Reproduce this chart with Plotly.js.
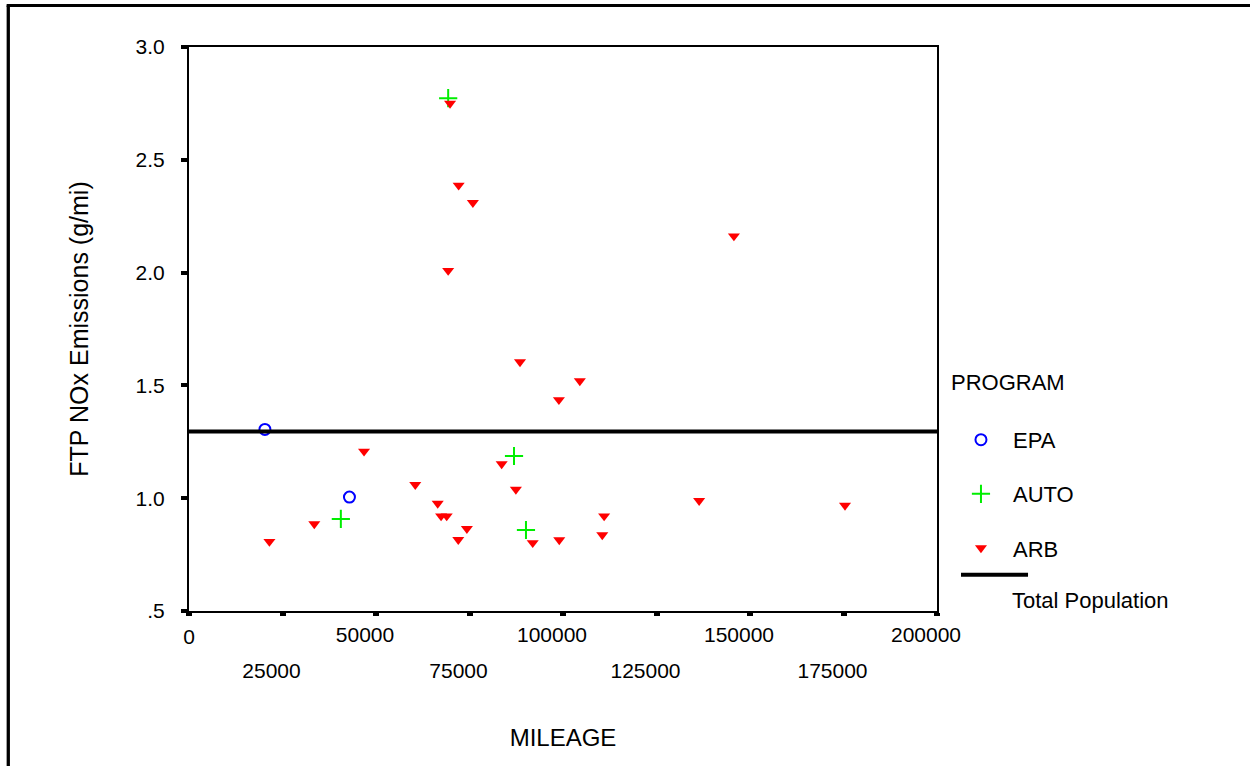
<!DOCTYPE html>
<html>
<head>
<meta charset="utf-8">
<script src="https://cdn.plot.ly/plotly-3.0.1.min.js"></script>
<style>html,body{margin:0;padding:0;background:#fff;}#chart{width:1250px;height:766px;}</style>
</head>
<body>
<div id="chart"></div>
<script>
// ---- data ----
const epaMileage  = [20300, 42900];
const epaNOx      = [1.305, 1.005];

const autoMileage = [69300, 40600, 86900, 90100];
const autoNOx     = [2.773, 0.908, 1.187, 0.859];

const arbMileage = [21500, 33500, 46800, 69800, 72100, 75900, 69300, 60500, 66500, 67400,
                    68900, 74300, 72000, 83600, 87400, 91900, 99000, 111000, 110500, 88500,
                    104500, 98900, 136400, 175400, 145700];
const arbNOx     = [0.808, 0.886, 1.208, 2.750, 2.387, 2.310, 2.009, 1.060, 0.977, 0.921,
                    0.921, 0.865, 0.816, 1.152, 1.039, 0.802, 0.815, 0.921, 0.837, 1.604,
                    1.520, 1.436, 0.989, 0.968, 2.162];

const totalMileage = [0, 200000];
const totalNOx     = [1.296, 1.296];

const xMainTicks   = [0, 25000, 50000, 75000, 100000, 125000, 150000, 175000, 200000];
const xRow1Ticks   = [50000, 100000, 150000, 200000];
const xRow2Ticks   = [25000, 75000, 125000, 175000];
const yTicks       = [0.5, 1.0, 1.5, 2.0, 2.5, 3.0];
const yTickLabels  = ['.5', '1.0', '1.5', '2.0', '2.5', '3.0'];
const seriesNames  = ['EPA', 'AUTO', 'ARB'];

const FONT = 'Liberation Sans, Arial, sans-serif';

const traces = [
  {x: epaMileage, y: epaNOx, name: seriesNames[0], type: 'scatter', mode: 'markers',
   legendgroup: 'g1', marker: {symbol: 'circle-open', size: 11, color: '#0000ff', line: {width: 2, color: '#0000ff'}}},
  {x: autoMileage, y: autoNOx, name: seriesNames[1], type: 'scatter', mode: 'markers',
   legendgroup: 'g2', marker: {symbol: 'cross-thin-open', size: 13, color: '#00ee00', line: {width: 2, color: '#00ee00'}}},
  {x: arbMileage, y: arbNOx, name: seriesNames[2], type: 'scatter', mode: 'markers',
   legendgroup: 'g3', marker: {symbol: 'triangle-down', size: 10.5, color: '#ff0000', line: {width: 0}}},
  {x: totalMileage, y: totalNOx, name: 'Total Population', type: 'scatter', mode: 'lines',
   showlegend: false, line: {color: '#000', width: 4}}
];

const tickFont = {family: FONT, size: 21, color: '#000'};

const layout = {
  width: 1250, height: 766,
  margin: {l: 189, r: 313, t: 47, b: 155},
  paper_bgcolor: '#fff', plot_bgcolor: '#fff',
  font: {family: FONT, color: '#000'},
  showlegend: true,
  legend: {
    x: 1.016, xanchor: 'left', y: 0.442, yanchor: 'top',
    traceorder: 'grouped', tracegroupgap: 22.5, itemwidth: 54,
    font: {family: FONT, size: 22, color: '#000'},
    title: {text: 'PROGRAM<br> ', font: {family: FONT, size: 22, color: '#000'}},
    bgcolor: 'rgba(0,0,0,0)', borderwidth: 0
  },
  xaxis: {
    range: [0, 200000], showgrid: false, zeroline: false,
    showline: true, linecolor: '#000', linewidth: 2, mirror: true,
    tickmode: 'array', tickvals: xMainTicks,
    ticktext: xMainTicks.map(v => v === 0 ? '0' : ''),
    ticks: 'outside', ticklen: 3, tickwidth: 6, tickcolor: '#000',
    tickfont: tickFont, ticklabelstandoff: 3,
    title: {text: 'MILEAGE', font: {family: FONT, size: 24, color: '#000'}, standoff: 82},
    automargin: true, fixedrange: true
  },
  xaxis2: {
    overlaying: 'x', anchor: 'y', side: 'bottom', range: [0, 200000],
    showgrid: false, zeroline: false, showline: false,
    tickmode: 'array', tickvals: xRow1Ticks, ticktext: xRow1Ticks.map(String),
    ticks: '', ticklabelshift: -11, ticklabelstandoff: 9, tickfont: tickFont, fixedrange: true
  },
  xaxis3: {
    overlaying: 'x', anchor: 'y', side: 'bottom', range: [0, 200000],
    showgrid: false, zeroline: false, showline: false,
    tickmode: 'array', tickvals: xRow2Ticks, ticktext: xRow2Ticks.map(String),
    ticks: '', ticklabelshift: -11, ticklabelstandoff: 45, tickfont: tickFont, fixedrange: true
  },
  yaxis: {
    range: [0.5, 3.0], showgrid: false, zeroline: false,
    showline: true, linecolor: '#000', linewidth: 2, mirror: true,
    tickmode: 'array', tickvals: yTicks, ticktext: yTickLabels,
    ticks: 'outside', ticklen: 6, tickwidth: 4, tickcolor: '#000',
    tickfont: tickFont, ticklabelstandoff: 12,
    title: {text: 'FTP NOx Emissions (g/mi)', font: {family: FONT, size: 25, color: '#000'}, standoff: 40},
    automargin: true, fixedrange: true
  },
  shapes: [
    // outer frame (left and top edges only)
    {type: 'line', xref: 'paper', yref: 'paper', x0: -0.2416, x1: -0.2416, y0: -0.3, y1: 1.0736,
     line: {color: '#000', width: 3.3}},
    {type: 'line', xref: 'paper', yref: 'paper', x0: -0.2438, x1: 1.43, y0: 1.0736, y1: 1.0736,
     line: {color: '#000', width: 3}},
    // legend entry for the Total Population line
    {type: 'line', xref: 'paper', yref: 'paper', x0: 1.0321, x1: 1.1217, y0: 0.0644, y1: 0.0644,
     line: {color: '#000', width: 4}}
  ],
  annotations: [
    {xref: 'paper', yref: 'paper', x: 1.0976, y: 0.0195, xanchor: 'left', yanchor: 'middle',
     text: 'Total Population', showarrow: false, font: {family: FONT, size: 22, color: '#000'}}
  ]
};

// bind the second/third label axes so they render
traces.push({x: [null], y: [null], xaxis: 'x2', yaxis: 'y', showlegend: false, hoverinfo: 'skip'});
traces.push({x: [null], y: [null], xaxis: 'x3', yaxis: 'y', showlegend: false, hoverinfo: 'skip'});

Plotly.newPlot('chart', traces, layout, {displayModeBar: false, staticPlot: true});
</script>
</body>
</html>
